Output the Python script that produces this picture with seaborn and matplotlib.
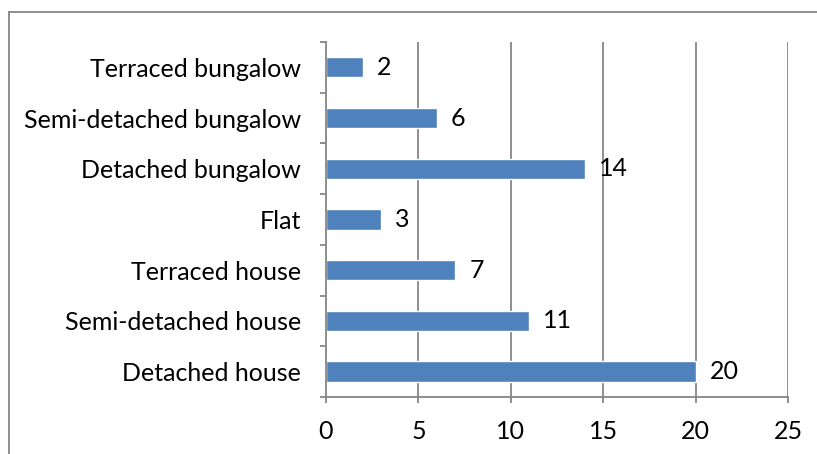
import matplotlib
matplotlib.use("Agg")
import matplotlib.pyplot as plt
import seaborn as sns
import pandas as pd
from matplotlib.lines import Line2D

# data, top to bottom as in the chart
categories = [
    "Terraced bungalow",
    "Semi-detached bungalow",
    "Detached bungalow",
    "Flat",
    "Terraced house",
    "Semi-detached house",
    "Detached house",
]
counts = [2, 6, 14, 3, 7, 11, 20]

bar_color = "#4F81BD"
grid_color = "#868686"
fs = 18

sns.set_theme(style="white")
plt.rcParams["font.family"] = ["Lato", "DejaVu Sans"]

df = pd.DataFrame({"category": categories, "count": counts})

fig = plt.figure(figsize=(8.17, 4.54), dpi=100)
ax = fig.add_axes([0.399, 0.1256, 0.5655, 0.782])

sns.barplot(data=df, x="count", y="category", order=categories,
            color=bar_color, saturation=1, width=0.4, ax=ax)

ax.bar_label(ax.containers[0], padding=10, fontsize=fs, color="black")

ax.set_xlim(0, 25)
ax.set_ylim(len(categories) - 0.5, -0.5)
ax.set_xticks([0, 5, 10, 15, 20, 25])
ax.set_xlabel("")
ax.set_ylabel("")

# vertical gridlines
for v in [5, 10, 15, 20, 25]:
    ax.axvline(v, color=grid_color, lw=1.3, zorder=0)

for side in ["top", "right"]:
    ax.spines[side].set_visible(False)
for side in ["left", "bottom"]:
    ax.spines[side].set_color(grid_color)
    ax.spines[side].set_linewidth(1.3)

# category ticks at boundaries, labels at centres
ax.set_yticks([i - 0.5 for i in range(len(categories) + 1)], minor=True)
ax.tick_params(axis="y", which="major", length=0, pad=18, labelsize=fs)
ax.tick_params(axis="y", which="minor", left=True, length=4.5,
               width=1.3, color=grid_color)
ax.tick_params(axis="x", which="major", bottom=True, length=4.5,
               width=1.3, color=grid_color, pad=12, labelsize=fs)
for lbl in ax.get_xticklabels() + ax.get_yticklabels():
    lbl.set_color("black")

# chart border (only left and top visible in the crop)
fig.add_artist(Line2D([0.0115, 0.0115], [0, 0.974], transform=fig.transFigure,
                      color=grid_color, lw=1.3))
fig.add_artist(Line2D([0.0115, 1], [0.974, 0.974], transform=fig.transFigure,
                      color=grid_color, lw=1.3))

fig.savefig("out.png", dpi=100, facecolor="white")
